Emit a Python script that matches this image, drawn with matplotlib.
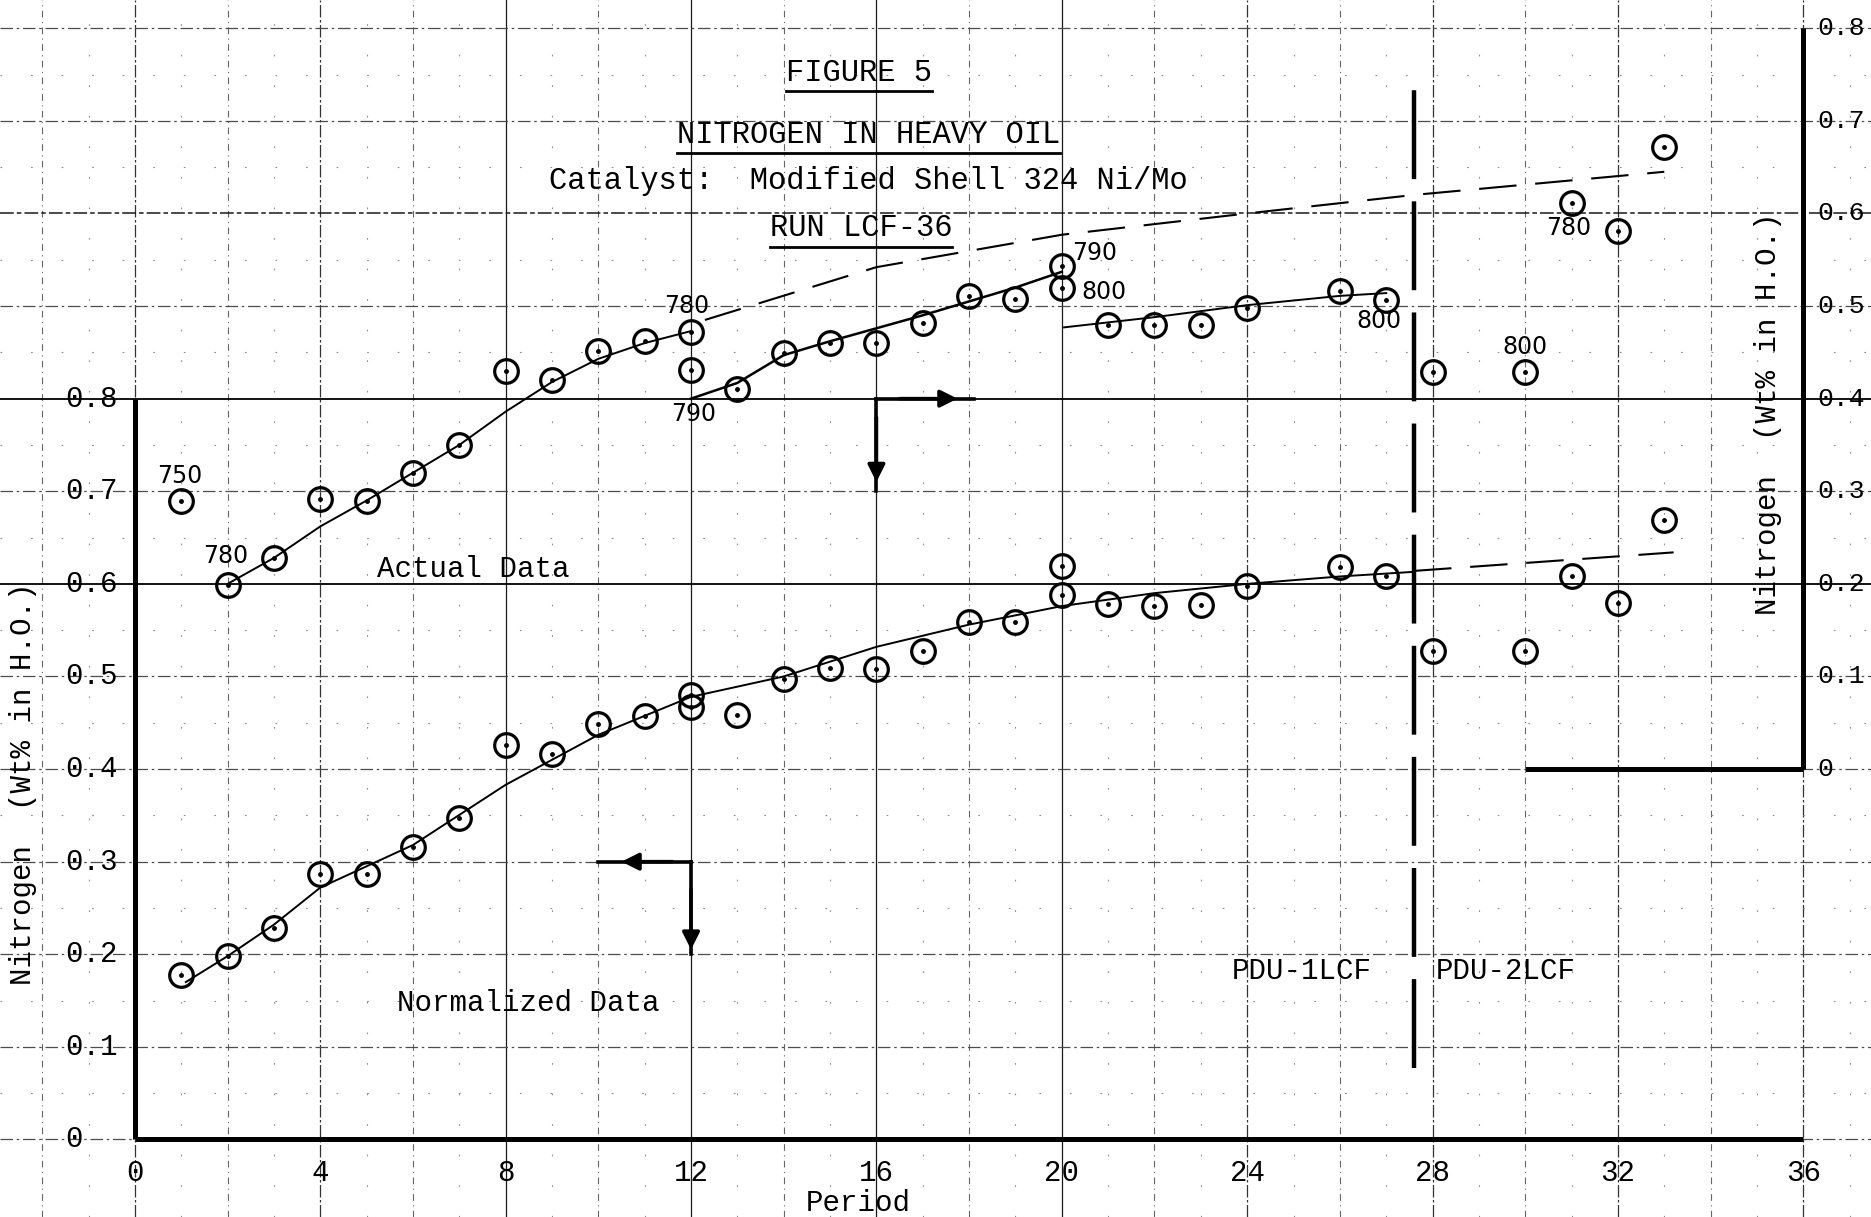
import matplotlib
matplotlib.use("Agg")
import matplotlib.pyplot as plt
import numpy as np

# ---------------- data ----------------
# Actual data (read against the right-hand axis)
periods_actual = [1, 2, 3, 4, 5, 6, 7, 8, 9, 10, 11, 12, 12, 13, 14, 15, 16, 17, 18, 19,
                  20, 20, 21, 22, 23, 24, 26, 27, 28, 30, 31, 32, 33]
nitrogen_actual = [0.289, 0.199, 0.228, 0.292, 0.290, 0.320, 0.350, 0.430, 0.420, 0.452,
                   0.462, 0.472, 0.431, 0.410, 0.449, 0.460, 0.460, 0.482, 0.511, 0.508,
                   0.543, 0.519, 0.480, 0.480, 0.480, 0.498, 0.516, 0.507, 0.429, 0.429,
                   0.611, 0.581, 0.672]

# Normalized data (read against the left-hand axis)
periods_norm = [1, 2, 3, 4, 5, 6, 7, 8, 9, 10, 11, 12, 12, 13, 14, 15, 16, 17, 18, 19,
                20, 20, 21, 22, 23, 24, 26, 27, 28, 30, 31, 32, 33]
nitrogen_norm = [0.178, 0.198, 0.228, 0.287, 0.287, 0.316, 0.347, 0.426, 0.416, 0.449,
                 0.457, 0.480, 0.467, 0.458, 0.497, 0.509, 0.508, 0.528, 0.559, 0.559,
                 0.619, 0.588, 0.578, 0.576, 0.577, 0.598, 0.618, 0.608, 0.528, 0.528,
                 0.608, 0.579, 0.669]

# hand-drawn trend curves (right axis for actual, left axis for normalized)
act_fit1_x = [2, 3, 4, 5, 6, 7, 8, 9, 10, 11, 12]
act_fit1_y = [0.200, 0.228, 0.262, 0.290, 0.320, 0.350, 0.386, 0.418, 0.443, 0.460, 0.473]
act_fit2_x = [12, 13, 14, 15, 16, 17, 18, 19, 20]
act_fit2_y = [0.400, 0.417, 0.447, 0.462, 0.476, 0.490, 0.505, 0.520, 0.537]
act_fit3_x = [20.05, 22, 24, 26, 27]
act_fit3_y = [0.477, 0.488, 0.501, 0.511, 0.514]
act_dash_x = [12.3, 16, 20, 24, 27.6, 33]
act_dash_y = [0.485, 0.542, 0.577, 0.600, 0.620, 0.645]

norm_fit_x = [1.1, 2, 3, 4, 6, 8, 10, 12, 14, 16, 18, 20, 22, 24, 26, 27.6]
norm_fit_y = [0.170, 0.198, 0.232, 0.272, 0.318, 0.383, 0.437, 0.478, 0.500, 0.532,
              0.556, 0.576, 0.590, 0.600, 0.608, 0.613]
norm_dash_x = [27.6, 33.2]
norm_dash_y = [0.614, 0.634]

# temperature annotations: (period, left-axis level, text)
temp_labels = [(0.97, 0.716, "750"), (1.96, 0.630, "780"), (11.9, 0.900, "780"),
               (12.05, 0.783, "790"), (20.7, 0.957, "790"), (20.9, 0.915, "800"),
               (26.85, 0.884, "800"), (30.0, 0.856, "800"), (30.94, 0.984, "780")]

x_ticks = [0, 4, 8, 12, 16, 20, 24, 28, 32, 36]
left_ticks = [0, 0.1, 0.2, 0.3, 0.4, 0.5, 0.6, 0.7, 0.8]
right_ticks = [0, 0.1, 0.2, 0.3, 0.4, 0.5, 0.6, 0.7, 0.8]
RIGHT_OFFSET = 0.4

# ---------------- figure ----------------
TW = "Liberation Mono"
fig = plt.figure(figsize=(18.71, 12.17), dpi=100)
ax = fig.add_axes([0, 0, 1, 1])
XL = (-2.91, 37.46)
YL = (-0.0837, 1.2305)
ax.set_xlim(*XL)
ax.set_ylim(*YL)
ax.axis("off")
ax2 = ax.twinx()
ax2.set_ylim(YL[0] - RIGHT_OFFSET, YL[1] - RIGHT_OFFSET)
ax2.axis("off")

# ---- graph paper grid ----
for p in range(-2, 38, 2):
    if p in (8, 12, 16, 20):
        ax.axvline(p, color="0.1", lw=0.9, zorder=1)
    elif p % 4 == 0:
        ax.axvline(p, color="0.2", lw=0.9, ls=(0, (10, 2, 2, 2)), zorder=1)
    else:
        ax.axvline(p, color="0.4", lw=0.8, ls=(0, (6, 4, 1, 4)), zorder=1)
for p in range(-1, 38, 2):
    ax.axvline(p, color="0.55", lw=0.8, ls=(0, (1.5, 26)), zorder=1)
for k in range(0, 13):
    v = k / 10
    if k in (6, 8):
        ax.axhline(v, color="k", lw=1.3, zorder=1)
    elif k == 10:
        ax.axhline(v, color="0.1", lw=1.1, ls=(0, (9, 2, 3, 2)), zorder=1)
    else:
        ax.axhline(v, color="0.3", lw=0.9, ls=(0, (10, 3, 2, 3)), zorder=1)
for k in range(0, 12):
    ax.axhline(k / 10 + 0.05, color="0.55", lw=0.8, ls=(0, (1.5, 26)), zorder=1)

# ---- heavy axes lines ----
ax.plot([0, 0], [0, 0.8], color="k", lw=3.6, solid_capstyle="butt", zorder=3)
ax.plot([0, 36], [0, 0], color="k", lw=3.6, solid_capstyle="butt", zorder=3)
ax2.plot([36, 36], [0, 0.8], color="k", lw=3.6, solid_capstyle="butt", zorder=3)
ax2.plot([30, 36], [0, 0], color="k", lw=3.6, solid_capstyle="butt", zorder=3)

# ---- tick labels ----
for v in left_ticks:
    ax.text(-1.5, v, "0" if v == 0 else f"{v:.1f}", fontsize=21, family=TW,
            ha="left", va="center", zorder=4)
for v in right_ticks:
    ax2.text(36.3, v, "0" if v == 0 else f"{v:.1f}", fontsize=19, family=TW,
             ha="left", va="center", zorder=4)
for t in x_ticks:
    ax.text(t, -0.036, str(t), fontsize=21, family=TW, ha="center", va="center")
ax.text(15.6, -0.0686, "Period", fontsize=21, family=TW, ha="center", va="center")
ax.text(-2.41, 0.384, "Nitrogen  (Wt% in H.O.)", fontsize=21, family=TW,
        rotation=90, ha="center", va="center")
ax.text(35.24, 0.784, "Nitrogen  (Wt% in H.O.)", fontsize=21, family=TW,
        rotation=90, ha="center", va="center")

# ---- trend curves ----
ax2.plot(act_fit1_x, act_fit1_y, color="k", lw=1.4, zorder=4)
ax2.plot(act_fit2_x, act_fit2_y, color="k", lw=1.8, zorder=4)
ax2.plot(act_fit3_x, act_fit3_y, color="k", lw=1.4, zorder=4)
ax2.plot(act_dash_x, act_dash_y, color="k", lw=1.5, ls=(0, (18, 9)), zorder=4)
ax.plot(norm_fit_x, norm_fit_y, color="k", lw=1.4, zorder=4)
ax.plot(norm_dash_x, norm_dash_y, color="k", lw=1.5, ls=(0, (18, 9)), zorder=4)

# ---- data points (circle with centre dot) ----
for a, px, py in ((ax2, periods_actual, nitrogen_actual), (ax, periods_norm, nitrogen_norm)):
    a.plot(px, py, ls="none", marker="o", ms=17, mfc="none", mec="k", mew=2.3, zorder=5)
    a.plot(px, py, ls="none", marker="o", ms=2.5, mfc="k", mec="k", zorder=6)

# ---- PDU separator ----
ax.plot([27.6, 27.6], [0.077, 1.151], color="k", lw=3.2, ls=(0, (20, 5)), zorder=4)
ax.text(23.66, 0.182, "PDU-1LCF", fontsize=21, family=TW, ha="left", va="center")
ax.text(28.06, 0.182, "PDU-2LCF", fontsize=21, family=TW, ha="left", va="center")

# ---- series labels ----
ax.text(5.23, 0.616, "Actual Data", fontsize=21, family=TW, ha="left", va="center")
ax.text(5.66, 0.147, "Normalized Data", fontsize=21, family=TW, ha="left", va="center")

# ---- axis-direction arrows ----
aprops = dict(arrowstyle="-|>", lw=2.6, color="k", mutation_scale=26, shrinkA=0, shrinkB=0)
ax.plot([16, 18.1], [0.8, 0.8], color="k", lw=2.6, zorder=4)
ax.plot([16, 16], [0.8, 0.70], color="k", lw=2.6, zorder=4)
ax.annotate("", xy=(17.75, 0.8), xytext=(16.5, 0.8), arrowprops=aprops, zorder=4)
ax.annotate("", xy=(16, 0.71), xytext=(16, 0.78), arrowprops=aprops, zorder=4)
ax.plot([10, 12], [0.3, 0.3], color="k", lw=2.6, zorder=4)
ax.plot([12, 12], [0.3, 0.2], color="k", lw=2.6, zorder=4)
ax.annotate("", xy=(10.5, 0.3), xytext=(11.6, 0.3), arrowprops=aprops, zorder=4)
ax.annotate("", xy=(12, 0.205), xytext=(12, 0.27), arrowprops=aprops, zorder=4)

# ---- temperature annotations ----
for px, py, s in temp_labels:
    ax.text(px, py, s, fontsize=17, family="DejaVu Sans", ha="center", va="center",
            zorder=7)

# ---- title block ----
titles = [("FIGURE 5", 15.62, 1.152, True),
          ("NITROGEN IN HEAVY OIL", 15.83, 1.085, True),
          ("Catalyst:  Modified Shell 324 Ni/Mo", 15.82, 1.0347, False),
          ("RUN LCF-36", 15.67, 0.9845, True)]
tobjs = []
for s, x, y, ul in titles:
    t = ax.text(x, y, s, fontsize=22, family=TW, ha="center", va="center", zorder=7)
    tobjs.append((t, ul))
fig.canvas.draw()
r = fig.canvas.get_renderer()
inv = ax.transData.inverted()
for t, ul in tobjs:
    if not ul:
        continue
    bb = t.get_window_extent(r)
    (x0, y0), (x1, y1) = inv.transform([[bb.x0, bb.y0], [bb.x1, bb.y1]])
    ax.plot([x0, x1], [y0 - 0.004, y0 - 0.004], color="k", lw=2.0, zorder=7)

fig.savefig("out.png", dpi=100)
